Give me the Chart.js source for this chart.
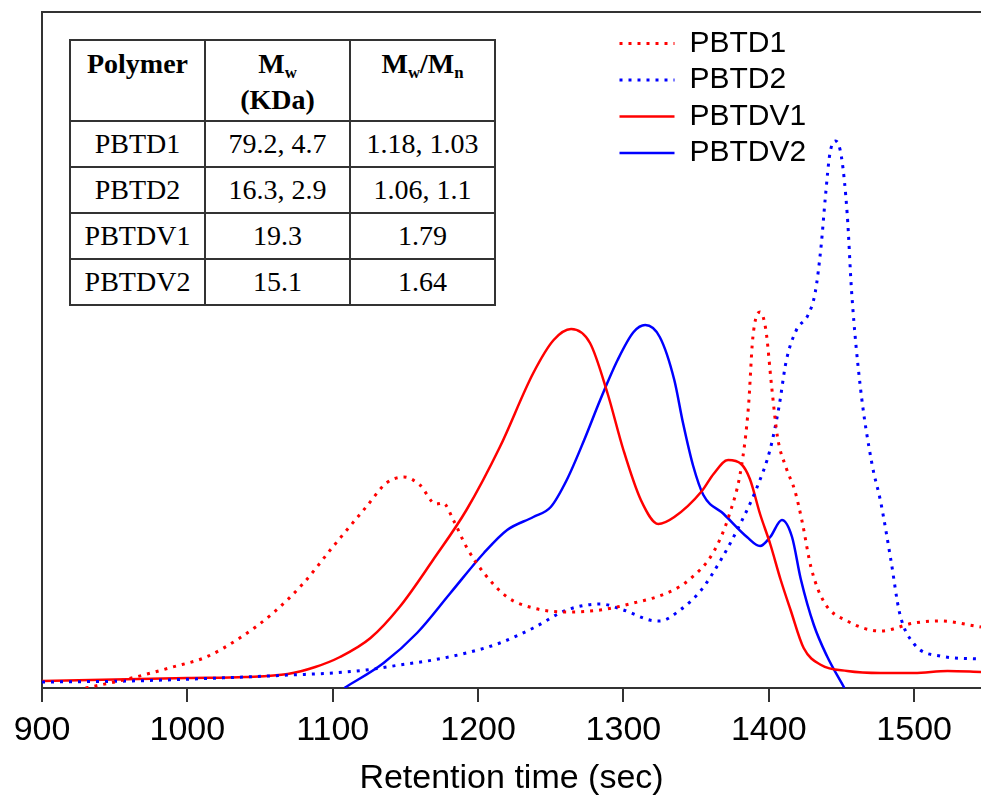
<!DOCTYPE html>
<html>
<head>
<meta charset="utf-8">
<script src="https://cdn.jsdelivr.net/npm/chart.js@4.4.1/dist/chart.umd.min.js"></script>
<style>
  body { margin: 0; background: #fff; }
  #wrap { position: relative; width: 981px; height: 801px; }
  #gpc { position: absolute; left: 0; top: 0; }
  #tbl {
    position: absolute; left: 69px; top: 39px;
    border-collapse: collapse; table-layout: fixed; width: 425px;
    font-family: "Liberation Serif", "Times New Roman", serif; font-size: 28px; color: #000;
    background: #fff;
  }
  #tbl td, #tbl th { border: 2px solid #333; text-align: center; padding: 0; }
  #tbl th { vertical-align: top; padding-top: 5px; line-height: 36px; height: 74px; font-weight: bold; }
  #tbl td { height: 44px; vertical-align: middle; }
  #tbl sub { font-size: 0.6em; line-height: 0; vertical-align: -0.3em; }
</style>
</head>
<body>
<div id="wrap">
  <canvas id="gpc" width="981" height="801"></canvas>
  <table id="tbl">
    <colgroup><col style="width:135px"><col style="width:145px"><col style="width:145px"></colgroup>
    <tbody id="tblBody"></tbody>
  </table>
</div>
<script>
// GPC traces, signal in arbitrary units (0 = baseline)
const pbtd1Time   = [930, 956, 990, 1013, 1036, 1059, 1080, 1100, 1123, 1137, 1149, 1160, 1171, 1176, 1183, 1192, 1204, 1220, 1238, 1261, 1284, 1307, 1330, 1345, 1362, 1373, 1381, 1386, 1389, 1394, 1398, 1402, 1406, 1412, 1418, 1423, 1429, 1438, 1454, 1477, 1500, 1518, 1546];
const pbtd1Signal = [0, 8, 21, 31, 50, 75, 105, 141, 181, 205, 211, 203, 184, 185, 168, 141, 115, 91, 80, 76, 78, 85, 95, 108, 136, 174, 220, 281, 350, 376, 358, 301, 251, 220, 197, 166, 121, 86, 67, 57, 65, 67, 61];

const pbtd2Time   = [900, 960, 1022, 1071, 1100, 1123, 1146, 1169, 1192, 1215, 1238, 1261, 1284, 1300, 1318, 1325, 1339, 1353, 1367, 1380, 1392, 1401, 1407, 1412, 1419, 1427, 1432, 1436, 1439, 1442, 1446, 1450, 1454, 1457, 1463, 1471, 1477, 1484, 1490, 1500, 1518, 1546];
const pbtd2Signal = [6, 7, 10, 13, 15, 18, 23, 28, 35, 45, 60, 78, 84, 78, 68, 67, 78, 97, 128, 163, 201, 239, 281, 327, 358, 373, 396, 442, 492, 534, 547, 531, 473, 396, 301, 224, 186, 128, 75, 44, 32, 29];

const pbtdv1Time   = [900, 1000, 1040, 1069, 1088, 1105, 1126, 1146, 1169, 1192, 1215, 1238, 1252, 1264, 1277, 1289, 1300, 1312, 1324, 1335, 1354, 1362, 1372, 1381, 1387, 1394, 1401, 1408, 1415, 1424, 1436, 1454, 1477, 1500, 1523, 1546];
const pbtdv1Signal = [7, 10, 11, 14, 21, 31, 50, 81, 128, 178, 241, 315, 348, 359, 345, 295, 238, 188, 164, 171, 197, 214, 228, 224, 209, 174, 144, 109, 78, 40, 23, 17, 15, 15, 17, 16];

const pbtdv2Time   = [1108, 1135, 1158, 1181, 1204, 1220, 1238, 1250, 1261, 1273, 1284, 1296, 1307, 1315, 1325, 1335, 1341, 1348, 1355, 1369, 1385, 1394, 1401, 1409, 1416, 1422, 1431, 1440, 1452];
const pbtdv2Signal = [0, 25, 55, 95, 135, 158, 171, 181, 208, 248, 288, 328, 356, 363, 351, 308, 265, 222, 193, 174, 151, 142, 151, 168, 151, 109, 63, 32, 0];

const seriesNames = ['PBTD1', 'PBTD2', 'PBTDV1', 'PBTDV2'];
const xTicks = [900, 1000, 1100, 1200, 1300, 1400, 1500];

// inset table
const tblPolymer = ['PBTD1', 'PBTD2', 'PBTDV1', 'PBTDV2'];
const tblMw = ['79.2, 4.7', '16.3, 2.9', '19.3', '15.1'];
const tblPdi = ['1.18, 1.03', '1.06, 1.1', '1.79', '1.64'];

function toPoints(xs, ys) {
    return xs.map((x, i) => ({ x: x, y: ys[i] }));
}

function buildTable() {
    const body = document.getElementById('tblBody');
    let html = '<tr><th>Polymer</th><th>M<sub>w</sub><br>(KDa)</th><th>M<sub>w</sub>/M<sub>n</sub></th></tr>';
    tblPolymer.forEach((p, i) => {
        html += `<tr><td>${p}</td><td>${tblMw[i]}</td><td>${tblPdi[i]}</td></tr>`;
    });
    body.innerHTML = html;
}
buildTable();

const RED = '#ff0000';
const BLUE = '#0000ff';
const AXIS = '#333333';

function traceStyle(color, dotted) {
    return {
        borderColor: color,
        backgroundColor: color,
        borderWidth: dotted ? 3 : 2.5,
        borderDash: dotted ? [3, 6] : [],
        pointRadius: 0,
        pointStyle: 'line',
        fill: false,
        cubicInterpolationMode: 'monotone'
    };
}

// legend entries keep the dash pattern of their trace
function legendItems(chart) {
    const items = Chart.defaults.plugins.legend.labels.generateLabels(chart);
    items.forEach(it => {
        const ds = chart.data.datasets[it.datasetIndex];
        it.lineDash = ds.borderDash;
        it.lineWidth = ds.borderWidth;
        it.strokeStyle = ds.borderColor;
        it.lineCap = 'butt';
    });
    return items;
}

// puts the legend box in the top right of the plot
const legendSpot = {
    id: 'legendSpot',
    afterLayout(chart) {
        const lg = chart.legend;
        if (!lg) return;
        lg.left = 613;
        lg.top = 22;
        lg.right = 980;
        lg.bottom = 300;
    }
};

const ctx = document.getElementById('gpc').getContext('2d');
new Chart(ctx, {
    type: 'line',
    data: {
        datasets: [
            Object.assign({ label: seriesNames[0], data: toPoints(pbtd1Time, pbtd1Signal) }, traceStyle(RED, true)),
            Object.assign({ label: seriesNames[1], data: toPoints(pbtd2Time, pbtd2Signal) }, traceStyle(BLUE, true)),
            Object.assign({ label: seriesNames[2], data: toPoints(pbtdv1Time, pbtdv1Signal) }, traceStyle(RED, false)),
            Object.assign({ label: seriesNames[3], data: toPoints(pbtdv2Time, pbtdv2Signal) }, traceStyle(BLUE, false))
        ]
    },
    options: {
        responsive: false,
        animation: false,
        devicePixelRatio: 1,
        events: [],
        layout: { padding: 0 },
        plugins: {
            tooltip: { enabled: false },
            legend: {
                position: 'chartArea',
                align: 'start',
                labels: {
                    usePointStyle: true,
                    pointStyleWidth: 55,
                    padding: 6.5,
                    color: '#000',
                    generateLabels: legendItems,
                    font: { family: '"Liberation Sans", Arial, sans-serif', size: 30 }
                }
            }
        },
        scales: {
            x: {
                type: 'linear',
                position: 'bottom',
                min: 900,
                max: 1546,
                afterBuildTicks: (scale) => { scale.ticks = xTicks.map(v => ({ value: v })); },
                afterFit: (scale) => { scale.height = 113; },
                ticks: {
                    includeBounds: false,
                    padding: 8,
                    color: '#000',
                    maxRotation: 0,
                    callback: (v) => String(v),
                    font: { family: '"Liberation Sans", Arial, sans-serif', size: 34 }
                },
                grid: { drawOnChartArea: false, drawTicks: true, tickLength: 14, color: AXIS, lineWidth: 2 },
                border: { display: true, color: AXIS, width: 2 },
                title: {
                    display: true,
                    text: 'Retention time (sec)',
                    color: '#000',
                    padding: { top: 0, bottom: 2 },
                    font: { family: '"Liberation Sans", Arial, sans-serif', size: 34 }
                }
            },
            xTop: {
                type: 'linear',
                position: 'top',
                min: 900,
                max: 1546,
                afterFit: (scale) => { scale.height = 12; },
                ticks: { display: false },
                grid: { display: false },
                border: { display: true, color: AXIS, width: 2 }
            },
            y: {
                type: 'linear',
                position: 'left',
                min: 0,
                max: 676,
                afterFit: (scale) => { scale.width = 42; },
                ticks: { display: false },
                grid: { display: false },
                border: { display: true, color: AXIS, width: 2 }
            }
        }
    },
    plugins: [legendSpot]
});
</script>
</body>
</html>
